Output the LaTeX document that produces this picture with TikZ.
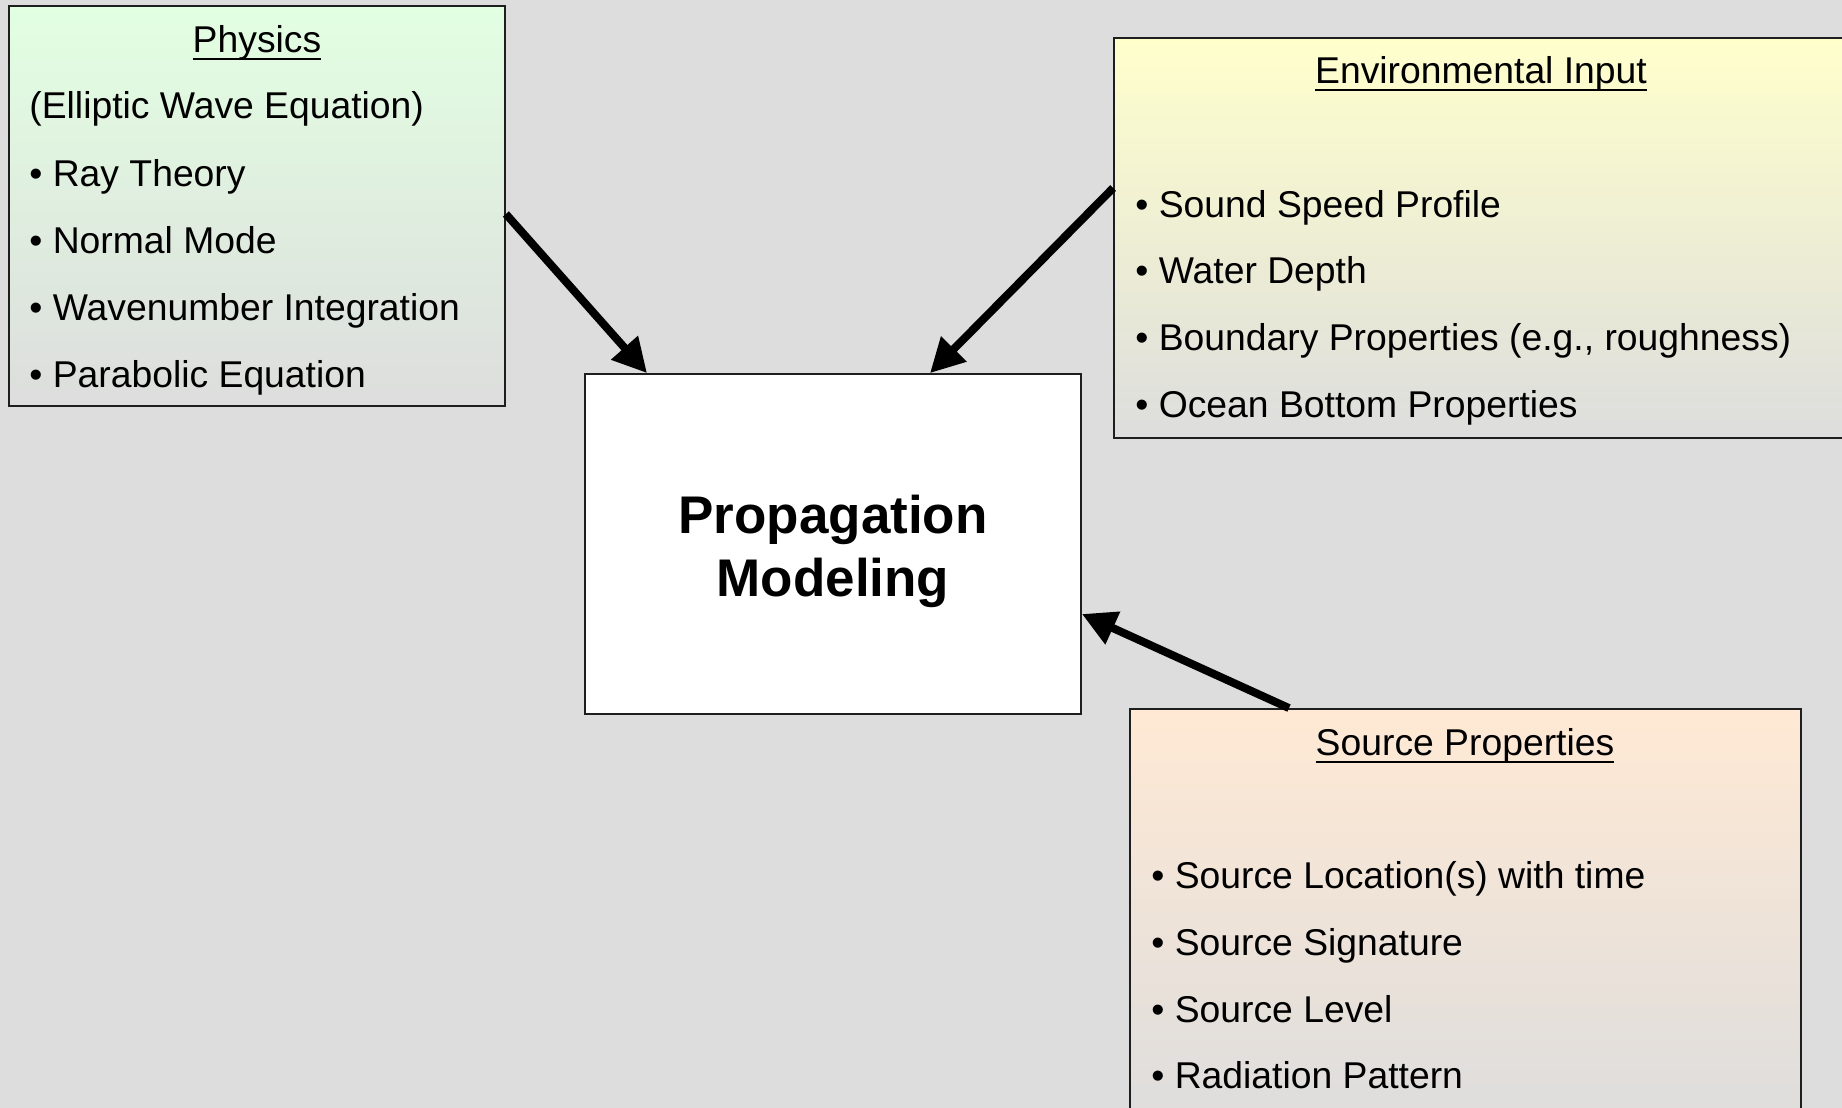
\documentclass[tikz,border=0pt]{standalone}
\usepackage{fontspec}
\setmainfont{Liberation Sans}
\usetikzlibrary{arrows.meta}
\definecolor{bg}{RGB}{221,221,221}
\definecolor{physgreen}{RGB}{226,255,226}
\definecolor{envyellow}{RGB}{255,255,204}
\definecolor{srcpeach}{RGB}{255,233,212}
\definecolor{edge}{RGB}{30,30,30}
\newcommand\myul[1]{\setbox0\hbox{#1}\rlap{\rule[-4pt]{\wd0}{1.2pt}}\box0}
\tikzset{
  box/.style={draw=edge, line width=0.9pt, shading=axis, bottom color=bg, inner sep=0pt},
  itemtxt/.style={anchor=base west, inner sep=0pt, font=\fontsize{18.65pt}{22pt}\selectfont},
  titletxt/.style={anchor=base, inner sep=0pt, font=\fontsize{18.65pt}{22pt}\selectfont},
  bigtxt/.style={anchor=base, inner sep=0pt, font=\fontsize{26.5pt}{31pt}\selectfont\bfseries},
  arr/.style={line width=4pt, -{Triangle[length=17pt,width=17pt]}}
}
\begin{document}
\begin{tikzpicture}[x=0.5pt,y=-0.5pt]
\clip (0,0) rectangle (1842,1108);
\fill[bg] (0,0) rectangle (1842,1108);

% boxes
\node[box, top color=physgreen, minimum width=248pt, minimum height=200pt] (phys) at (257,206) {};
\node[box, top color=envyellow, minimum width=368pt, minimum height=200pt] (env) at (1482,238) {};
\node[box, top color=srcpeach, minimum width=335.5pt, minimum height=208pt] (src) at (1465.5,917) {};
\node[draw=edge, line width=0.9pt, fill=white, minimum width=248pt, minimum height=170pt, inner sep=0pt] (center) at (833,544) {};

% physics text
\node[titletxt] (pt) at (257,52) {\myul{Physics}};
\node[itemtxt] (p0) at (29,118) {(Elliptic Wave Equation)};
\node[itemtxt] (p1) at (29,186) {• Ray Theory};
\node[itemtxt] (p2) at (29,253) {• Normal Mode};
\node[itemtxt] (p3) at (29,320) {• Wavenumber Integration};
\node[itemtxt] (p4) at (29,387) {• Parabolic Equation};

% environmental text
\node[titletxt] (et) at (1481,83) {\myul{Environmental Input}};
\node[itemtxt] (e1) at (1135,217) {• Sound Speed Profile};
\node[itemtxt] (e2) at (1135,283) {• Water Depth};
\node[itemtxt] (e3) at (1135,350) {• Boundary Properties (e.g., roughness)};
\node[itemtxt] (e4) at (1135,417) {• Ocean Bottom Properties};

% source text
\node[titletxt] (st) at (1465,755) {\myul{Source Properties}};
\node[itemtxt] (s1) at (1151,888) {• Source Location(s) with time};
\node[itemtxt] (s2) at (1151,955) {• Source Signature};
\node[itemtxt] (s3) at (1151,1022) {• Source Level};
\node[itemtxt] (s4) at (1151,1088) {• Radiation Pattern};

% center text
\node[bigtxt] (c1) at (833,533) {Propagation};
\node[bigtxt] (c2) at (833,596) {Modeling};

% arrows
\draw[arr] (phys.east |- 0,214) -- (center.north -| 647,0);
\draw[arr] (env.west |- 0,188) -- (center.north -| 930,0);
\draw[arr] (src.north -| 1289,0) -- (center.east |- 0,614);
\end{tikzpicture}
\end{document}
